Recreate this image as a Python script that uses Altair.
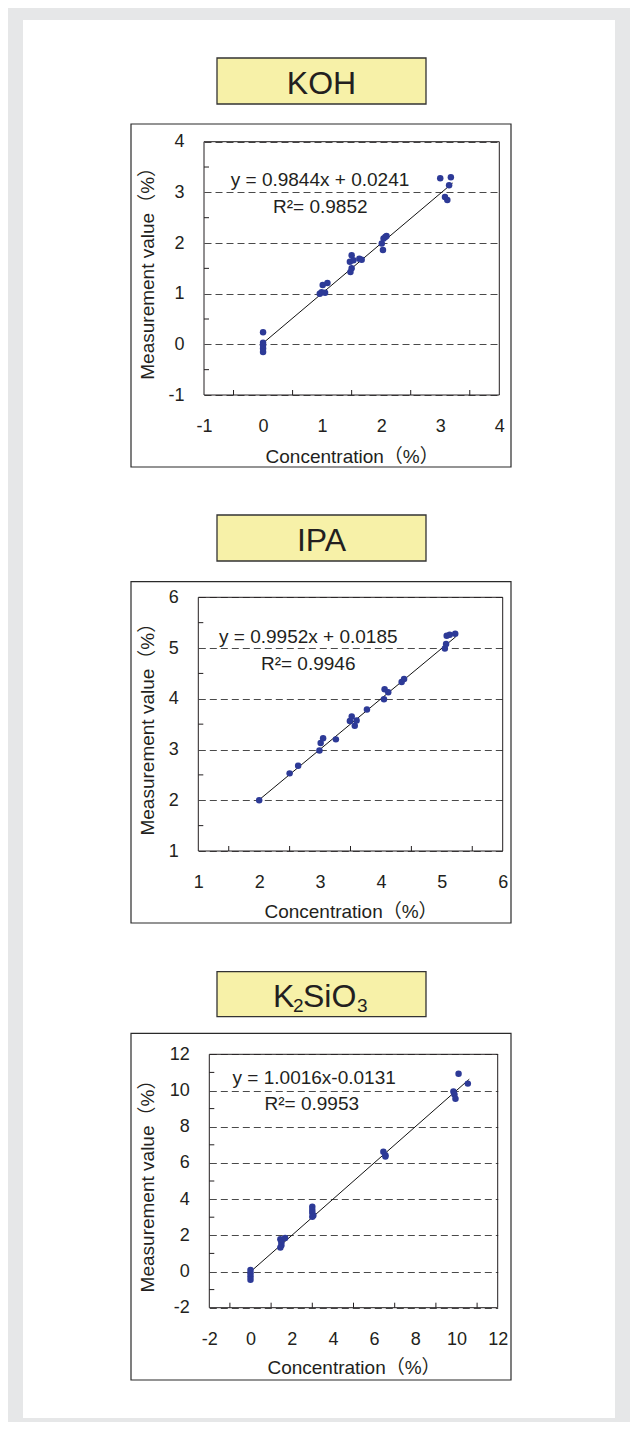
import altair as alt
import pandas as pd

# ---------------- data ----------------
koh_x = [0, 0, 0, 0, 0, 0.96, 0.99, 1.01, 1.05, 1.09, 1.47, 1.48, 1.50, 1.50, 1.53, 1.63, 1.67,
         2.01, 2.03, 2.04, 2.07, 2.09, 3.00, 3.08, 3.12, 3.15, 3.18]
koh_y = [0.24, 0.03, -0.02, -0.08, -0.15, 1.00, 1.03, 1.17, 1.02, 1.21, 1.63, 1.43, 1.50, 1.76, 1.66, 1.69, 1.67,
         1.99, 1.86, 2.09, 2.12, 2.14, 3.28, 2.91, 2.85, 3.14, 3.30]

ipa_x = [2.00, 2.50, 2.64, 2.99, 3.01, 3.05, 3.26, 3.49, 3.52, 3.57, 3.60, 3.77, 4.05, 4.06, 4.12,
         4.34, 4.38, 5.05, 5.07, 5.08, 5.13, 5.22]
ipa_y = [2.00, 2.53, 2.68, 2.98, 3.13, 3.22, 3.20, 3.56, 3.65, 3.47, 3.57, 3.79, 3.99, 4.19, 4.13,
         4.33, 4.39, 4.99, 5.08, 5.24, 5.26, 5.28]

ks_x = [0, 0, 0, 0, 1.45, 1.50, 1.50, 1.45, 1.68, 3.0, 3.0, 3.0, 3.05, 3.0, 6.45, 6.55, 6.55,
        9.85, 9.90, 9.95, 10.10, 10.55]
ks_y = [0.08, -0.10, -0.28, -0.45, 1.78, 1.62, 1.45, 1.32, 1.85, 3.58, 3.40, 3.25, 3.10, 3.03,
        6.62, 6.42, 6.35, 9.95, 9.78, 9.55, 10.92, 10.38]

# regression equations (slope, intercept) and the x span of the drawn fit line
koh_fit = (0.9844, 0.0241)
ipa_fit = (0.9952, 0.0185)
ks_fit = (1.0016, -0.0131)
koh_fit_x = [0.0, 3.21]
ipa_fit_x = [2.0, 5.23]
ks_fit_x = [0.0, 10.62]

koh_eq = ["y = 0.9844x + 0.0241", "R\u00b2= 0.9852"]
ipa_eq = ["y = 0.9952x + 0.0185", "R\u00b2= 0.9946"]
ks_eq = ["y = 1.0016x-0.0131", "R\u00b2= 0.9953"]

# axis tick labels and minor (inside) tick marks
koh_xticks = [-1, 0, 1, 2, 3, 4]
koh_yticks = [-1, 0, 1, 2, 3, 4]
koh_minor = [-0.5, 0.5, 1.5, 2.5, 3.5]
ipa_xticks = [1, 2, 3, 4, 5, 6]
ipa_yticks = [1, 2, 3, 4, 5, 6]
ipa_minor = [1.5, 2.5, 3.5, 4.5, 5.5]
ks_xticks = [-2, 0, 2, 4, 6, 8, 10, 12]
ks_yticks = [-2, 0, 2, 4, 6, 8, 10, 12]
ks_minor = [-1, 1, 3, 5, 7, 9, 11]

X_TITLE = "Concentration\uff08%\uff09"
Y_TITLE = "Measurement value\uff08%\uff09"

# ---------------- style ----------------
FONT = "Liberation Sans, Noto Sans CJK JP"
INK = "#231f20"
DOT = "#2d3a97"
BOX_FILL = "#f7f1a8"
TILE_W = 592

panels = [
    dict(x=koh_x, y=koh_y, fit=koh_fit, fit_x=koh_fit_x, eq=koh_eq,
         xdom=[-1, 4], ydom=[-1, 4], xticks=koh_xticks, yticks=koh_yticks,
         xminor=koh_minor, yminor=koh_minor,
         h=470, plot=(181, 476.3, 121.7, 375), frame=(108, 488, 104, 447),
         box=(194, 403, 38, 84),
         title=[("KOH", 298.5, 74.3, 32, "center")],
         eqpos=[(297, 165.7), (297.3, 192.7)], ytx=-47, xty=52),
    dict(x=ipa_x, y=ipa_y, fit=ipa_fit, fit_x=ipa_fit_x, eq=ipa_eq,
         xdom=[1, 6], ydom=[1, 6], xticks=ipa_xticks, yticks=ipa_yticks,
         xminor=ipa_minor, yminor=ipa_minor,
         h=455, plot=(175.3, 479.7, 107.3, 361), frame=(108, 488, 91.7, 433),
         box=(194, 403, 25, 71),
         title=[("IPA", 298.5, 61, 32, "center")],
         eqpos=[(285.3, 153.3), (285.2, 180)], ytx=-41, xty=51),
    dict(x=ks_x, y=ks_y, fit=ks_fit, fit_x=ks_fit_x, eq=ks_eq,
         xdom=[-2, 12], ydom=[-2, 12], xticks=ks_xticks, yticks=ks_yticks,
         xminor=ks_minor, yminor=ks_minor,
         h=473, plot=(186.3, 474.7, 109.3, 362.7), frame=(108, 488, 88.3, 435),
         box=(194, 403, 26.7, 71.7),
         title=[("K", 250, 61.7, 32, "left"), ("2", 270, 66.7, 19, "left"),
                ("SiO", 280, 61.7, 32, "left"), ("3", 334, 66.7, 19, "left")],
         eqpos=[(291.2, 139.3), (288.8, 165)], ytx=-52, xty=51),
]

one = pd.DataFrame({"k": [0]})


def rect(x0, x1, y0, y1, **kw):
    return alt.Chart(one).mark_rect(**kw).encode(
        x=alt.value(x0), x2=alt.value(x1), y=alt.value(y0), y2=alt.value(y1))


def text(s, x, y, size, align):
    return alt.Chart(one).mark_text(
        fontSize=size, align=align, baseline="alphabetic", color=INK, font=FONT
    ).encode(x=alt.value(x), y=alt.value(y), text=alt.value(s))


def panel(c):
    px0, px1, py0, py1 = c["plot"]
    xs = alt.Scale(domain=c["xdom"], range=[px0, px1], nice=False, zero=False)
    ys = alt.Scale(domain=c["ydom"], range=[py1, py0], nice=False, zero=False)
    xaxis = alt.Axis(values=c["xticks"], grid=False, ticks=False, domain=False,
                     labelFontSize=18, labelPadding=22.5, labelFlush=False,
                     labelOverlap=False, labelExpr="'' + datum.value",
                     offset=py1 - c["h"], title=X_TITLE, titleFontSize=19,
                     titleY=c["xty"], titleBaseline="top", titleAlign="center")
    yaxis = alt.Axis(values=c["yticks"], grid=True, gridDash=[7, 4], gridColor="#4a4a4a",
                     gridWidth=1, ticks=False, domain=False,
                     labelFontSize=18, labelPadding=20, labelFlush=False,
                     labelOverlap=False, labelExpr="'' + datum.value",
                     offset=-px0, title=Y_TITLE, titleFontSize=19,
                     titleAngle=270, titleBaseline="bottom", titleAlign="center",
                     titleX=c["ytx"])
    ex = alt.X("x:Q", scale=xs, axis=xaxis)
    ey = alt.Y("y:Q", scale=ys, axis=yaxis)

    fx0, fx1, fy0, fy1 = c["frame"]
    bx0, bx1, by0, by1 = c["box"]
    a, b = c["fit"]
    fit_df = pd.DataFrame({"x": c["fit_x"], "y": [a * v + b for v in c["fit_x"]]})

    layers = [
        rect(fx0, fx1, fy0, fy1, filled=False, stroke="#2a2a2a", strokeWidth=1.2),
        rect(bx0, bx1, by0, by1, fill=BOX_FILL, stroke="#333333", strokeWidth=1.3),
    ]
    for s, tx, ty, sz, al in c["title"]:
        layers.append(text(s, tx, ty, sz, al))
    layers += [
        alt.Chart(pd.DataFrame({"y": c["yminor"]})).mark_rule(color=INK, strokeWidth=1)
        .encode(y=ey, x=alt.value(px0), x2=alt.value(px0 + 5)),
        alt.Chart(pd.DataFrame({"x": c["xminor"]})).mark_rule(color=INK, strokeWidth=1)
        .encode(x=ex, y=alt.value(py1), y2=alt.value(py1 - 5)),
        alt.Chart(fit_df).mark_line(color="#111111", strokeWidth=1).encode(x=ex, y=ey),
        alt.Chart(pd.DataFrame({"x": c["x"], "y": c["y"]}))
        .mark_circle(size=42, color=DOT, opacity=1).encode(x=ex, y=ey),
        rect(px0, px1, py0, py1, filled=False, stroke=INK, strokeWidth=1),
        text(c["eq"][0], c["eqpos"][0][0], c["eqpos"][0][1], 19, "center"),
        text(c["eq"][1], c["eqpos"][1][0], c["eqpos"][1][1], 19, "center"),
    ]
    return alt.layer(*layers).properties(width=TILE_W, height=c["h"])


chart = alt.vconcat(*[panel(c) for c in panels], spacing=0, bounds="flush").properties(
    padding={"left": 15, "top": 12, "right": 15, "bottom": 4},
    background="#e6e7e8",
).configure(font=FONT).configure_view(stroke=None, fill="white").configure_axis(
    labelColor=INK, titleColor=INK, titleFontWeight="normal", labelFont=FONT, titleFont=FONT
)

chart.save("out.html", embed_options={"renderer": "svg", "actions": False})
